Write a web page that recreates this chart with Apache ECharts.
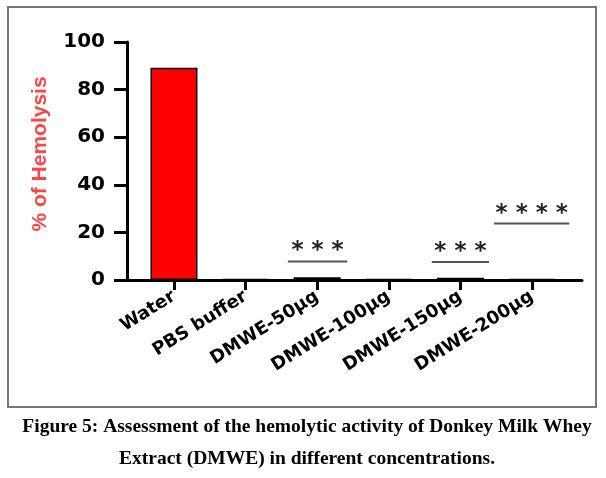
<!DOCTYPE html>
<html lang="en">
	<head>
		<meta charset="UTF-8" />
		<script src="https://cdn.jsdelivr.net/npm/echarts@6/dist/echarts.min.js"></script>
		<title>hemolysis</title>
		<style>
			* {
				padding: 0;
				margin: 0;
			}
			body {
				background: #fff;
			}
		</style>
	</head>

	<body>
		<div id="main" style="width:606px;height:478px"></div>
		<script>
			// groups and % of hemolysis
			var categories = ["Water", "PBS buffer", "DMWE-50\u00b5g", "DMWE-100\u00b5g", "DMWE-150\u00b5g", "DMWE-200\u00b5g"]
			var hemolysis = [89.2, 0.5, 1.2, 0.4, 0.9, 0.5]
			var barColors = ["#ff0000", "#ff0000", "#ff0000", "#ff0000", "#ff0000", "#ff0000"]

			// significance brackets: start / end (category units), height, stars
			var sigFrom = [1.59, 3.6, 4.47]
			var sigTo = [2.42, 4.4, 5.52]
			var sigLevel = [7.8, 7.6, 23.7]
			var sigStars = ["***", "***", "****"]

			var caption = "Figure 5: Assessment of the hemolytic activity of Donkey Milk Whey\nExtract (DMWE) in different concentrations."

			var barData = hemolysis.map(function(v, i) {
				return {
					value: [i, v],
					itemStyle: { color: barColors[i] }
				}
			})
			var sigData = sigFrom.map(function(f, i) {
				return [f, sigTo[i], sigLevel[i], sigStars[i]]
			})

			var myChart = echarts.init(document.getElementById("main"))
			var option = {
				backgroundColor: "#ffffff",
				animation: false,
				title: {
					text: caption,
					left: 302,
					top: 406,
					textAlign: "center",
					textStyle: {
						fontFamily: "Liberation Serif",
						fontWeight: "bold",
						fontSize: 19.5,
						lineHeight: 32,
						color: "#000"
					}
				},
				graphic: [
					{
						type: "rect",
						shape: { x: 8, y: 7, width: 588, height: 400 },
						style: { fill: "none", stroke: "#777777", lineWidth: 2 },
						silent: true
					}
				],
				grid: {
					left: 127,
					top: 42,
					width: 455,
					height: 238
				},
				xAxis: {
					type: "value",
					min: -0.656,
					max: 5.698,
					splitLine: { show: false },
					axisLine: {
						show: true,
						onZero: false,
						lineStyle: { color: "#000", width: 3 }
					},
					axisTick: {
						show: true,
						customValues: [0, 1, 2, 3, 4, 5],
						length: 10,
						lineStyle: { color: "#000", width: 3 }
					},
					axisLabel: {
						customValues: [0, 1, 2, 3, 4, 5],
						formatter: function(v) {
							return categories[Math.round(v)]
						},
						rotate: 32,
						margin: 15,
						fontFamily: "DejaVu Sans",
						fontWeight: "bold",
						fontSize: 18,
						color: "#000"
					}
				},
				yAxis: {
					type: "value",
					min: 0,
					max: 100,
					interval: 20,
					name: "% of Hemolysis",
					nameLocation: "middle",
					nameRotate: 90,
					nameGap: 76,
					nameTextStyle: {
						fontFamily: "Liberation Sans",
						fontWeight: "bold",
						fontSize: 21,
						color: "#ff4444",
						padding: [0, 0, 0, 14]
					},
					splitLine: { show: false },
					axisLine: {
						show: true,
						onZero: false,
						lineStyle: { color: "#000", width: 3 }
					},
					axisTick: {
						show: true,
						length: 13,
						lineStyle: { color: "#000", width: 3 }
					},
					axisLabel: {
						margin: 22,
						fontFamily: "DejaVu Sans",
						fontWeight: "bold",
						fontSize: 20,
						color: "#000"
					}
				},
				series: [
					{
						type: "bar",
						barWidth: 47,
						data: barData,
						itemStyle: {
							borderColor: "#000",
							borderWidth: 1.5
						}
					},
					{
						type: "custom",
						renderItem: function(params, api) {
							var a = api.coord([api.value(0), api.value(2)])
							var b = api.coord([api.value(1), api.value(2)])
							var stars = sigData[params.dataIndex][3]
							return {
								type: "group",
								children: [
									{
										type: "line",
										shape: { x1: a[0], y1: a[1], x2: b[0], y2: b[1] },
										style: { stroke: "#555", lineWidth: 2 }
									},
									{
										type: "text",
										x: (a[0] + b[0]) / 2,
										y: a[1] - 10,
										style: {
											text: stars.split("").join(" "),
											fontFamily: "DejaVu Sans",
											fontWeight: "bold",
											fontSize: 23,
											fill: "#222",
											align: "center",
											verticalAlign: "middle"
										}
									}
								]
							}
						},
						data: sigData
					}
				]
			}
			myChart.setOption(option)
		</script>
	</body>
</html>
